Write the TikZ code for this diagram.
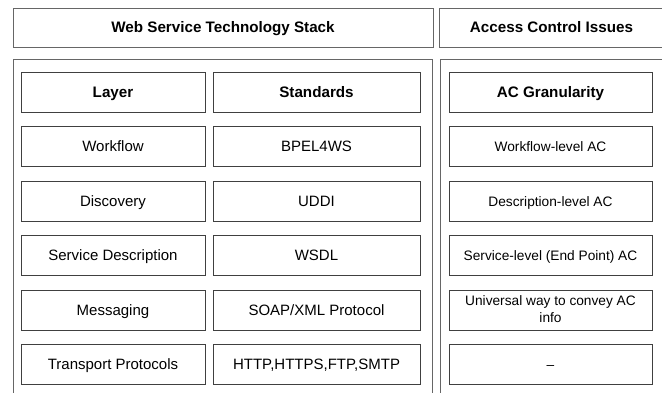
\documentclass[tikz,border=0pt]{standalone}
\usepackage{fontspec}
\setmainfont{Liberation Sans}

\tikzset{
  cell/.style={draw=black!75,line width=0.9pt,inner sep=0pt,minimum height=40pt,
    text height=14pt,text depth=3.3pt,align=center,font=\fontsize{15}{16}\selectfont},
  accell/.style={cell,font=\fontsize{13.7}{16.5}\selectfont},
  oneline/.style={},
  twoline/.style={text height={},text depth={}},
  head/.style={font=\fontsize{15.2}{16}\selectfont\bfseries},
  frame/.style={draw=black!60,line width=0.9pt}
}

\begin{document}
\begin{tikzpicture}[x=1pt,y=-1pt]
  \useasboundingbox (0,0) rectangle (662,392);
  \clip (0,0) rectangle (662,392);

  % titles
  \node[frame,head,minimum width=420pt,minimum height=39pt,text height=14pt,text depth=3.3pt] (stack) at (223,27.5) {Web Service Technology Stack};
  \node[frame,minimum width=233pt,minimum height=39pt] (issuesbox) at (555.5,27.5) {};
  \node[head,text height=14pt,text depth=3.3pt] (issues) at (551.5,27.5) {Access Control Issues};

  % outer frames
  \draw[frame] (13,400) -- (13,59) -- (432,59) -- (432,400);
  \draw[frame] (440,400) -- (440,59) -- (672,59);

  % header row
  \node[cell,head,minimum width=184pt] (layer) at (113,92) {Layer};
  \node[cell,head,minimum width=207pt] (standards) at (316.5,92) {Standards};
  \node[cell,head,minimum width=203pt] (granularity) at (550.5,92) {AC Granularity};

  % rows
  \foreach \i/\lay/\std/\ac/\acopt in {
      1/Workflow/BPEL4WS/Workflow-level AC/oneline,
      2/Discovery/UDDI/Description-level AC/oneline,
      3/Service Description/WSDL/Service-level (End Point) AC/oneline,
      4/Messaging/SOAP\slash XML Protocol/{Universal way to convey AC\\info\rule[-1.5pt]{0pt}{0pt}}/twoline,
      5/Transport Protocols/{HTTP,HTTPS,FTP,SMTP}/--/oneline}
  {
    \node[cell,minimum width=184pt] (lay\i) at (113,92+54.5*\i) {\lay};
    \node[cell,minimum width=207pt] (std\i) at (316.5,92+54.5*\i) {\std};
    \node[accell,\acopt,minimum width=203pt] (ac\i) at (550.5,92+54.5*\i) {\ac};
  }
\end{tikzpicture}
\end{document}
